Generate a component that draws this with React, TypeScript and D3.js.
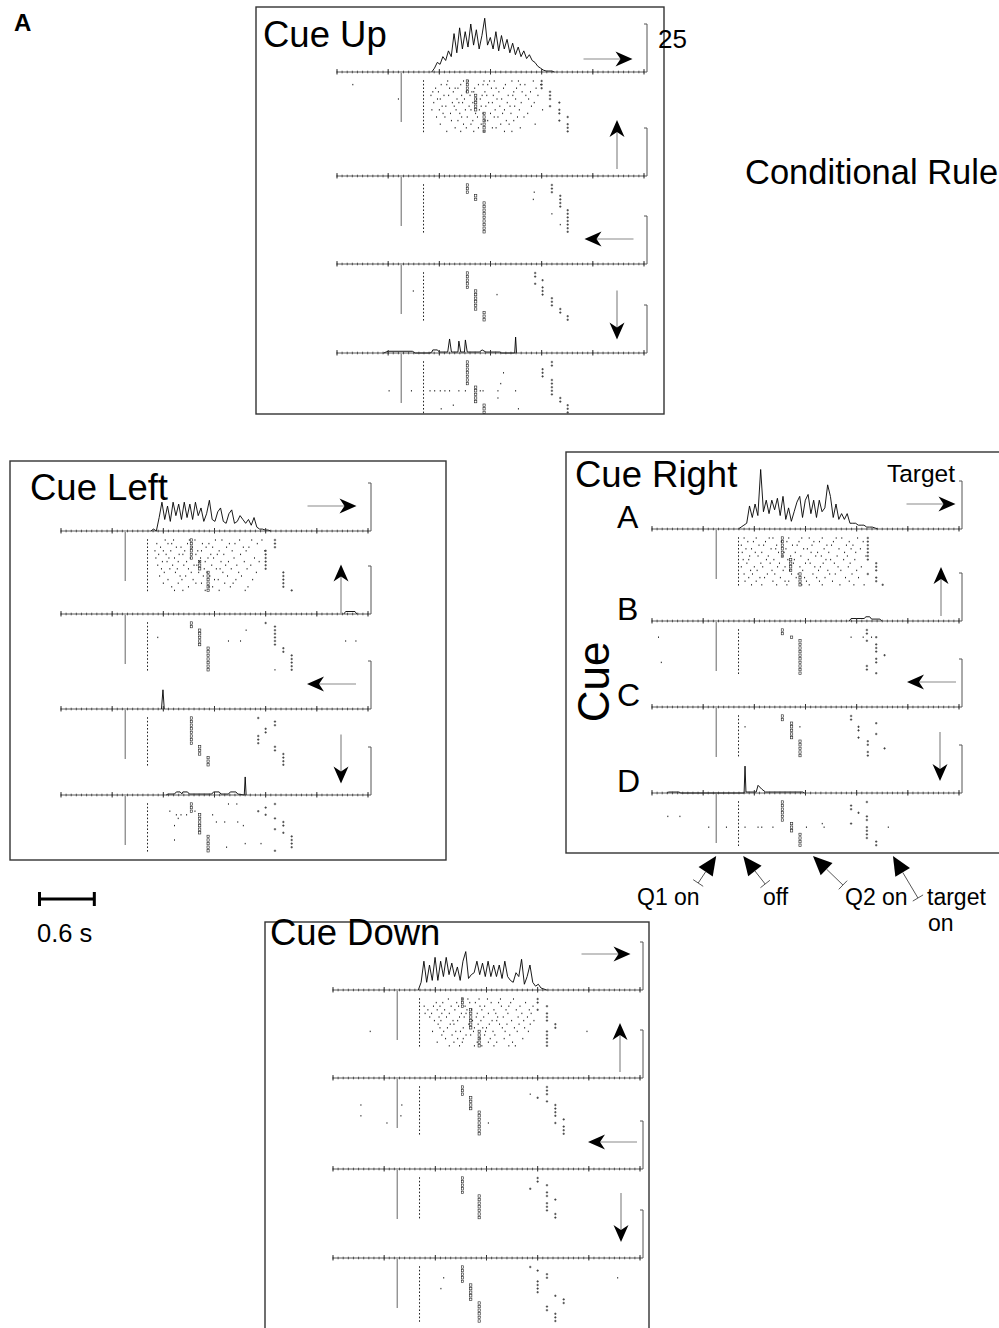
import React from "react";
import * as d3 from "d3";

const FONT = "'Liberation Sans', Arial, Helvetica, sans-serif";

// ---------- shared axis / event constants (seconds from left end of a time line) ----------
const AXIS_SPAN_S = 3.3;
const MAJOR_TICKS_S = [0, 0.55, 1.1, 1.65, 2.2, 2.75, 3.3];
const MINOR_STEP_S = 0.055;
const Q1_ON_S = 0.69;
const CUE_OFF_S = 0.93;
const RATE_BAR = 25; // spikes/s
const SCALE_BAR_S = 0.6;
const BIN_S = 0.03;

const PANEL_TITLES = ["Cue Up", "Cue Left", "Cue Right", "Cue Down"];
const TARGET_DIRS = ["right", "up", "left", "down"];
const ROW_LABELS = ["A", "B", "C", "D"];
const EVENT_LABELS = ["Q1 on", "off", "Q2 on", "target on"];
const EVENT_TIMES = [0.69, 0.98, 1.73, 2.59];

type Hist = { start?: number; values?: number[]; points?: [number, number][] };

// ---------- Cue Up ----------
const cueUpHist: Hist[] = [
  { start: 1.018, values: [0, 2, 5, 4, 8, 6, 11, 8, 20, 10, 23, 12, 21, 13, 25, 14, 22, 12, 19, 28, 14, 18, 12, 21, 11, 19, 12, 17, 10, 15, 9, 13, 8, 11, 7, 9, 6, 5, 3, 2, 1, 0.5, 0.5, 0.5, 0] },
  { points: [] },
  { points: [] },
  { points: [[0.5, 0], [0.55, 0.9], [0.81, 0.9], [0.84, 0], [1.0, 0], [1.02, 0.5], [1.03, 1.6], [1.08, 1.6], [1.1, 0.5], [1.19, 0.5], [1.21, 7.3], [1.23, 0.5], [1.3, 0.5], [1.31, 6.2], [1.33, 0.5], [1.37, 0.5], [1.38, 6.8], [1.4, 0.5], [1.53, 0.5], [1.56, 1.6], [1.6, 0.5], [1.75, 0.5], [1.77, 0], [1.91, 0], [1.92, 8.3], [1.93, 0]] },
];
const cueUpQ2 = [
  [1.4, 1.4, 1.4, 1.4, 1.49, 1.49, 1.49, 1.49, 1.49, 1.58, 1.58, 1.58, 1.58, 1.58, 1.58],
  [1.4, 1.4, 1.4, 1.49, 1.49, 1.58, 1.58, 1.58, 1.58, 1.58, 1.58, 1.58, 1.58, 1.58],
  [1.4, 1.4, 1.4, 1.4, 1.4, 1.49, 1.49, 1.49, 1.49, 1.49, 1.49, 1.58, 1.58, 1.58],
  [1.4, 1.4, 1.4, 1.4, 1.4, 1.4, 1.4, 1.49, 1.49, 1.49, 1.49, 1.49, 1.58, 1.58, 1.58],
];
const cueUpTgt = [
  [2.2, 2.2, 2.2, 2.29, 2.29, 2.29, 2.39, 2.29, 2.39, 2.39, 2.48, 2.39, 2.48, 2.48, 2.48],
  [2.31, 2.31, 2.31, 2.4, 2.4, 2.4, 2.4, 2.48, 2.48, 2.48, 2.48, 2.48, 2.48, 2.48],
  [2.13, 2.13, 2.21, 2.13, 2.21, 2.21, 2.21, 2.31, 2.31, 2.31, 2.4, 2.4, 2.48, 2.48],
  [2.31, 2.31, 2.21, 2.21, 2.21, 2.31, 2.31, 2.31, 2.31, 2.31, 2.4, 2.4, 2.48, 2.48, 2.48],
];
const cueUpDense = [
  "1.19 1.36 1.41 1.58 1.64 1.69 1.88 1.95 2.11",
  "1.12 1.18 1.33 1.52 1.57 1.62 1.81 1.97 2.02 2.19",
  "1.06 1.21 1.27 1.30 1.48 1.66 1.71 1.79 1.93 2.14",
  "1.03 1.09 1.25 1.39 1.45 1.47 1.59 1.74 1.90 1.99 2.08",
  "1.01 1.15 1.20 1.34 1.43 1.56 1.61 1.68 1.84 1.89 2.03 2.16",
  "1.08 1.11 1.29 1.37 1.50 1.54 1.72 1.77 1.92 2.06",
  "1.04 1.24 1.31 1.35 1.46 1.63 1.67 1.83 1.98 2.12",
  "1.13 1.17 1.26 1.42 1.55 1.60 1.75 1.86 1.91 2.09",
  "1.02 1.10 1.28 1.38 1.44 1.53 1.70 1.80 1.96 2.21",
  "1.14 1.22 1.32 1.49 1.57 1.65 1.78 1.87 2.05",
  "1.07 1.16 1.34 1.40 1.51 1.69 1.73 1.94 2.01",
  "1.23 1.30 1.46 1.59 1.62 1.82 1.90",
  "1.11 1.36 1.44 1.55 1.76 1.85 2.13",
  "1.27 1.39 1.52 1.67 1.71 1.97",
  "1.18 1.33 1.47 1.58 1.80 1.88",
];
const cueUpExtra: [number, number, number][] = [
  [0, 1, 0.17], [0, 5, 0.66],
  [1, 2, 2.12], [1, 4, 2.11], [1, 8, 2.31], [1, 11, 2.4],
  [2, 5, 0.82], [2, 6, 1.72],
  [3, 8, 0.56], [3, 8, 0.8], [3, 8, 1.0], [3, 8, 1.05], [3, 8, 1.11], [3, 8, 1.16], [3, 8, 1.21], [3, 8, 1.31], [3, 8, 1.38], [3, 8, 1.54], [3, 8, 1.57], [3, 8, 1.73], [3, 8, 1.92], [3, 3, 1.79], [3, 6, 1.76], [3, 10, 1.73], [3, 12, 1.25], [3, 13, 1.12], [3, 13, 1.95],
];

// ---------- Cue Left ----------
const cueLeftHist: Hist[] = [
  { start: 0.965, values: [0, 1, 0, 7, 15, 6, 13, 5, 15, 8, 14, 6, 15, 7, 14, 6, 15, 8, 12, 5, 9, 16, 6, 5, 10, 12, 5, 4, 9, 11, 4, 5, 8, 6, 4, 6, 3, 7, 2, 1, 1, 0.5, 0.5, 0] },
  { points: [[3.04, 0], [3.06, 1.3], [3.16, 1.3], [3.18, 0]] },
  { points: [[1.08, 0], [1.096, 10], [1.11, 0]] },
  { points: [[1.13, 0], [1.15, 0.5], [1.22, 0.5], [1.24, 1.6], [1.28, 1.6], [1.3, 0.6], [1.31, 1.6], [1.36, 1.6], [1.38, 0.5], [1.62, 0.5], [1.64, 1.6], [1.7, 1.6], [1.72, 0.5], [1.8, 0.5], [1.82, 1.6], [1.88, 1.6], [1.9, 0.5], [1.97, 0], [1.98, 9.4], [1.99, 0]] },
];
const cueLeftQ2 = [
  [1.4, 1.4, 1.4, 1.4, 1.4, 1.4, 1.49, 1.49, 1.49, 1.58, 1.58, 1.58, 1.58, 1.58, 1.58],
  [1.4, 1.4, 1.49, 1.49, 1.49, 1.49, 1.49, 1.58, 1.58, 1.58, 1.58, 1.58, 1.58, 1.58],
  [1.4, 1.4, 1.4, 1.4, 1.4, 1.4, 1.4, 1.4, 1.49, 1.49, 1.49, 1.58, 1.58, 1.58],
  [1.4, 1.4, 1.4, 1.49, 1.49, 1.49, 1.49, 1.49, 1.49, 1.58, 1.58, 1.58, 1.58, 1.58],
];
const cueLeftTgt = [
  [2.3, 2.3, 2.3, 2.2, 2.2, 2.2, 2.2, 2.2, 2.2, 2.39, 2.39, 2.39, 2.39, 2.39, 2.48],
  [2.2, 2.3, 2.3, 2.3, 2.3, 2.3, 2.3, 2.39, 2.39, 2.48, 2.48, 2.48, 2.48, 2.48],
  [2.12, 2.3, 2.3, 2.2, 2.2, 2.12, 2.12, 2.12, 2.3, 2.3, 2.39, 2.39, 2.39, 2.39],
  [2.3, 2.2, 2.12, 2.2, 2.3, 2.39, 2.39, 2.3, 2.39, 2.48, 2.48, 2.48, 2.48, 2.3],
];
const cueLeftDense = [
  "1.12 1.21 1.38 1.44 1.66 1.73 1.92 2.05 2.16",
  "1.03 1.15 1.19 1.36 1.52 1.59 1.81 1.87 2.11",
  "1.07 1.24 1.29 1.41 1.56 1.63 1.78 1.96 2.02",
  "1.01 1.10 1.18 1.33 1.47 1.51 1.70 1.84 1.99 2.19",
  "1.05 1.13 1.27 1.31 1.45 1.61 1.68 1.75 1.93",
  "1.02 1.16 1.22 1.39 1.50 1.58 1.64 1.86 2.08",
  "1.09 1.14 1.26 1.35 1.49 1.55 1.72 1.80 1.97 2.13",
  "1.04 1.20 1.32 1.43 1.46 1.62 1.77 1.89 2.04",
  "1.08 1.17 1.25 1.37 1.54 1.67 1.71 1.83 2.00",
  "1.11 1.23 1.40 1.48 1.57 1.74 1.91 2.10",
  "1.06 1.28 1.34 1.53 1.60 1.79 1.94",
  "1.15 1.30 1.42 1.65 1.69 1.88 2.06",
  "1.10 1.26 1.45 1.51 1.76 1.85",
  "1.19 1.37 1.59 1.63 1.82 2.01",
  "1.22 1.31 1.55 1.70 1.98",
];
const cueLeftExtra: [number, number, number][] = [
  [1, 4, 1.04], [1, 5, 1.8], [1, 5, 1.93], [1, 2, 1.99], [1, 5, 3.06], [1, 5, 3.17], [1, 13, 2.3],
  [3, 2, 1.17], [3, 3, 1.24], [3, 3, 1.29], [3, 3, 1.35], [3, 4, 1.26], [3, 6, 1.22], [3, 10, 1.22], [3, 2, 1.44], [3, 3, 1.63], [3, 5, 1.67], [3, 5, 1.76], [3, 5, 1.9], [3, 6, 1.96], [3, 0, 1.8], [3, 0, 1.89], [3, 11, 1.98], [3, 11, 2.15], [3, 12, 1.78],
];

// ---------- Cue Right ----------
const cueRightHist: Hist[] = [
  { start: 0.928, values: [0, 1, 2, 3, 12, 6, 13, 7, 31, 9, 15, 8, 15, 10, 16, 7, 17, 5, 11, 4, 9, 14, 17, 6, 15, 18, 8, 15, 6, 15, 9, 11, 23, 17, 6, 13, 5, 8, 5, 8, 3, 3, 3, 2, 2, 2, 1, 1, 1, 0.5, 0] },
  { points: [[2.12, 0], [2.14, 1.3], [2.28, 1.3], [2.3, 2.2], [2.34, 2.2], [2.36, 1], [2.45, 1], [2.47, 0]] },
  { points: [] },
  { points: [[0.16, 0], [0.18, 0.5], [0.29, 0.5], [0.31, 0], [0.99, 0], [1.0, 14], [1.01, 0.5], [1.12, 0.5], [1.14, 4], [1.18, 2], [1.22, 0.5], [1.62, 0.5], [1.64, 0]] },
];
const cueRightQ2 = [
  [1.4, 1.4, 1.4, 1.4, 1.4, 1.4, 1.49, 1.49, 1.49, 1.49, 1.59, 1.59, 1.59, 1.59],
  [1.4, 1.4, 1.5, 1.59, 1.59, 1.59, 1.59, 1.59, 1.59, 1.59, 1.59, 1.59, 1.59],
  [1.4, 1.4, 1.5, 1.5, 1.5, 1.5, 1.5, 1.59, 1.59, 1.59, 1.59, 1.59],
  [1.4, 1.4, 1.4, 1.4, 1.4, 1.4, 1.5, 1.5, 1.5, 1.59, 1.59, 1.59, 1.59],
];
const cueRightTgt = [
  [2.32, 2.32, 2.32, 2.32, 2.32, 2.32, 2.32, 2.41, 2.41, 2.41, 2.32, 2.41, 2.41, 2.48],
  [2.31, 2.31, 2.41, 2.31, 2.41, 2.41, 2.41, 2.5, 2.41, 2.41, 2.31, 2.31, 2.41],
  [2.14, 2.14, 2.41, 2.22, 2.22, 2.41, 2.22, 2.32, 2.32, 2.5, 2.32, 2.32],
  [2.31, 2.14, 2.14, 2.22, 2.31, 2.31, 2.14, 2.31, 2.31, 2.31, 2.31, 2.41, 2.41],
];
const cueRightDense = [
  "0.99 1.12 1.26 1.30 1.47 1.61 1.69 1.83 1.98 2.04 2.21",
  "1.03 1.09 1.22 1.39 1.45 1.58 1.74 1.80 1.95 2.12 2.27",
  "0.96 1.15 1.20 1.34 1.51 1.56 1.72 1.88 1.93 2.09 2.16",
  "1.01 1.07 1.28 1.33 1.44 1.63 1.67 1.85 2.01 2.14 2.24",
  "0.97 1.11 1.18 1.36 1.42 1.54 1.71 1.78 1.90 2.07 2.19",
  "1.05 1.14 1.25 1.40 1.49 1.60 1.76 1.82 1.99 2.10 2.30",
  "0.98 1.04 1.23 1.31 1.46 1.53 1.68 1.87 1.92 2.06 2.18",
  "1.02 1.17 1.27 1.37 1.52 1.65 1.70 1.84 1.96 2.13",
  "0.96 1.10 1.19 1.35 1.43 1.59 1.75 1.81 2.00 2.11 2.25",
  "1.06 1.13 1.29 1.41 1.48 1.62 1.79 1.89 2.03 2.20",
  "0.99 1.08 1.24 1.32 1.50 1.57 1.73 1.91 1.97 2.15",
  "1.04 1.16 1.21 1.38 1.55 1.64 1.77 1.86 2.08 2.22",
  "1.00 1.12 1.30 1.43 1.47 1.66 1.80 1.94 2.12",
  "1.07 1.18 1.34 1.45 1.61 1.69 1.83 2.02 2.17 2.28",
];
const cueRightExtra: [number, number, number][] = [
  [1, 2, 0.07], [1, 9, 0.1], [1, 2, 2.14], [1, 2, 2.27], [1, 2, 2.36],
  [2, 3, 1.0], [2, 3, 1.59],
  [3, 4, 0.17], [3, 4, 0.3], [3, 7, 0.61], [3, 7, 0.8], [3, 7, 1.0], [3, 7, 1.14], [3, 7, 1.18], [3, 7, 1.3], [3, 7, 1.66], [3, 6, 1.83], [3, 7, 1.85], [3, 7, 2.54],
];

// ---------- Cue Down ----------
const cueDownHist: Hist[] = [
  { start: 0.917, values: [0, 4, 15, 4, 13, 5, 17, 5, 15, 7, 17, 8, 14, 7, 12, 5, 15, 20, 6, 8, 9, 15, 8, 14, 7, 15, 7, 13, 7, 13, 6, 15, 7, 5, 4, 9, 7, 16, 3, 7, 13, 4, 2, 3, 1, 0.5, 0] },
  { points: [] },
  { points: [] },
  { points: [] },
];
const cueDownQ2 = [
  [1.39, 1.39, 1.39, 1.48, 1.48, 1.48, 1.48, 1.48, 1.48, 1.57, 1.57, 1.57, 1.57, 1.57],
  [1.39, 1.39, 1.39, 1.48, 1.48, 1.48, 1.48, 1.57, 1.57, 1.57, 1.57, 1.57, 1.57, 1.57],
  [1.39, 1.39, 1.39, 1.39, 1.39, 1.57, 1.57, 1.57, 1.57, 1.57, 1.57, 1.57],
  [1.39, 1.39, 1.39, 1.39, 1.39, 1.48, 1.48, 1.48, 1.48, 1.48, 1.57, 1.57, 1.57, 1.57, 1.57, 1.57],
];
const cueDownTgt = [
  [2.2, 2.2, 2.3, 2.2, 2.3, 2.3, 2.3, 2.39, 2.39, 2.3, 2.3, 2.3, 2.3, 2.3],
  [2.3, 2.3, 2.3, 2.2, 2.3, 2.39, 2.39, 2.39, 2.39, 2.48, 2.39, 2.48, 2.48, 2.48],
  [2.2, 2.2, 2.3, 2.12, 2.3, 2.3, 2.39, 2.3, 2.3, 2.3, 2.39, 2.39],
  [2.12, 2.2, 2.3, 2.3, 2.2, 2.2, 2.2, 2.2, 2.39, 2.48, 2.48, 2.3, 2.3, 2.39, 2.39, 2.39],
];
const cueDownDense = [
  "1.24 1.39 1.45 1.57 1.66 1.80 1.94",
  "1.11 1.18 1.33 1.47 1.53 1.70 1.78 1.91 2.07",
  "0.98 1.08 1.15 1.27 1.35 1.42 1.58 1.63 1.81 1.89 2.01 2.15",
  "1.02 1.12 1.20 1.31 1.44 1.49 1.60 1.73 1.86 1.97 2.11",
  "0.99 1.06 1.17 1.25 1.38 1.43 1.55 1.67 1.75 1.88 2.03 2.13",
  "1.04 1.14 1.22 1.36 1.41 1.54 1.62 1.77 1.83 1.99 2.09",
  "1.09 1.16 1.29 1.34 1.50 1.59 1.71 1.76 1.92 2.05 2.16",
  "1.13 1.26 1.30 1.46 1.56 1.68 1.79 1.87 2.00 2.12",
  "1.15 1.23 1.40 1.52 1.61 1.65 1.82 1.95 2.06",
  "1.07 1.19 1.32 1.37 1.51 1.64 1.72 1.85 1.98 2.10",
  "1.17 1.28 1.43 1.48 1.63 1.74 1.90",
  "1.21 1.34 1.40 1.58 1.69 1.84 2.04",
  "1.12 1.30 1.39 1.55 1.67 1.76 1.93",
  "1.25 1.36 1.52 1.60 1.73 1.89 1.96",
];
const cueDownExtra: [number, number, number][] = [
  [0, 9, 0.4], [0, 9, 2.73],
  [1, 5, 0.3], [1, 5, 0.74], [1, 2, 2.12], [1, 8, 0.3], [1, 10, 0.58], [1, 8, 0.73], [1, 10, 1.67],
  [3, 3, 1.19], [3, 6, 1.16], [3, 3, 3.06],
];

// ---------- layout (pixel geometry, not data) ----------
const LAYOUT = [
  { box: [256, 7, 408, 407], title: [263, 47], x0: 337, rows: [72, 176, 264, 353], arrows: [[271, -13], [280, -31.5], [272, -25], [280, -38]] },
  { box: [10, 461, 436, 399], title: [30, 500], x0: 61, rows: [531, 614, 709, 795], arrows: [[271, -25], [280, -25], [270.5, -25], [280, -36]] },
  { box: [566, 452, 460, 401], title: [575, 487], x0: 652, rows: [529, 621, 707, 793], arrows: [[279, -25], [289, -29.5], [279.5, -25], [288, -36.5]] },
  { box: [265, 922, 384, 440], title: [270, 945], x0: 333, rows: [990, 1078, 1169, 1258], arrows: [[273, -36], [287, -30.5], [279.5, -27], [288, -40.5]] },
];
const PANEL_DATA = [
  { hist: cueUpHist, q2: cueUpQ2, tgt: cueUpTgt, dense: cueUpDense, extra: cueUpExtra },
  { hist: cueLeftHist, q2: cueLeftQ2, tgt: cueLeftTgt, dense: cueLeftDense, extra: cueLeftExtra },
  { hist: cueRightHist, q2: cueRightQ2, tgt: cueRightTgt, dense: cueRightDense, extra: cueRightExtra },
  { hist: cueDownHist, q2: cueDownQ2, tgt: cueDownTgt, dense: cueDownDense, extra: cueDownExtra },
];
const EVENT_TAIL = [[-18, 27], [22, 28], [30, 29], [25, 42]];
const EVENT_TEXT_POS = [[637, 905], [763, 905], [845, 905], [927, 905]];

const TRIAL_TOP = 9;
const TRIAL_STEP = 3.6;
const Q1_LINE_LEN = 50;
const ARROW_LEN = 49;

const yRate = d3.scaleLinear().domain([0, RATE_BAR]).range([0, 48]);

function histPoints(h: Hist): [number, number][] {
  if (h.points) return h.points;
  if (h.values && h.start !== undefined) return h.values.map((v, i) => [h.start! + i * BIN_S, v] as [number, number]);
  return [];
}

function DirArrow({ cx, cy, dir }: { cx: number; cy: number; dir: string }) {
  const u = dir === "right" ? [1, 0] : dir === "left" ? [-1, 0] : dir === "up" ? [0, -1] : [0, 1];
  const n = [-u[1], u[0]];
  const sx = cx - (u[0] * ARROW_LEN) / 2, sy = cy - (u[1] * ARROW_LEN) / 2;
  const tx = cx + (u[0] * ARROW_LEN) / 2, ty = cy + (u[1] * ARROW_LEN) / 2;
  const hl = 17, hw = 7.5, notch = 12;
  const p = [
    [tx, ty],
    [tx - u[0] * hl + n[0] * hw, ty - u[1] * hl + n[1] * hw],
    [tx - u[0] * notch, ty - u[1] * notch],
    [tx - u[0] * hl - n[0] * hw, ty - u[1] * hl - n[1] * hw],
  ];
  return (
    <g>
      <line x1={sx} y1={sy} x2={tx - u[0] * 8} y2={ty - u[1] * 8} stroke="#8a8a8a" strokeWidth={1.2} />
      <polygon points={p.map((q) => q.join(",")).join(" ")} fill="#000" />
    </g>
  );
}

function TimeAxis({ x, y }: { x: d3.ScaleLinear<number, number>; y: number }) {
  const minor = d3.range(0, AXIS_SPAN_S + 1e-6, MINOR_STEP_S);
  return (
    <g stroke="#333" strokeWidth={0.8}>
      <line x1={x(0)} x2={x(AXIS_SPAN_S)} y1={y} y2={y} />
      {minor.map((t, i) => (
        <line key={i} x1={x(t)} x2={x(t)} y1={y - 1.3} y2={y + 1.3} />
      ))}
      {MAJOR_TICKS_S.map((t, i) => (
        <line key={"M" + i} x1={x(t)} x2={x(t)} y1={y - 3} y2={y + 2.5} strokeWidth={1} />
      ))}
    </g>
  );
}

function Panel({ idx }: { idx: number }) {
  const L = LAYOUT[idx];
  const D = PANEL_DATA[idx];
  const x = d3.scaleLinear().domain([0, AXIS_SPAN_S]).range([L.x0, L.x0 + 307]);
  const line = d3
    .line<[number, number]>()
    .x((d) => x(d[0]))
    .y((d) => -yRate(d[1]));
  const denseSpikes = D.dense.map((s) => s.split(" ").map(Number));
  const [bx, by, bw, bh] = L.box;
  return (
    <g>
      <rect x={bx} y={by} width={bw} height={bh} fill="none" stroke="#333" strokeWidth={1.4} />
      <text x={L.title[0]} y={L.title[1]} fontSize={36.5} fontFamily={FONT} fill="#000">
        {PANEL_TITLES[idx]}
      </text>
      {L.rows.map((ay, r) => {
        const pts = histPoints(D.hist[r]);
        const trialsQ2 = D.q2[r];
        const trialsTgt = D.tgt[r];
        const ty = (i: number) => ay + TRIAL_TOP + i * TRIAL_STEP;
        const xb = x(AXIS_SPAN_S) + 3;
        const [acx, acy] = L.arrows[r];
        return (
          <g key={r}>
            {pts.length > 0 && (
              <path d={line(pts) || ""} transform={`translate(0,${ay})`} fill="none" stroke="#000" strokeWidth={0.9} />
            )}
            <TimeAxis x={x} y={ay} />
            <path
              d={`M${xb - 3},${ay - yRate(RATE_BAR)}H${xb}V${ay}H${xb - 3}`}
              fill="none"
              stroke="#555"
              strokeWidth={1}
            />
            <DirArrow cx={L.x0 + acx} cy={ay + acy} dir={TARGET_DIRS[r]} />
            <line x1={x(Q1_ON_S)} x2={x(Q1_ON_S)} y1={ay + 1} y2={ay + Q1_LINE_LEN} stroke="#666" strokeWidth={1} />
            {trialsQ2.map((q, i) => (
              <g key={i}>
                <rect x={x(CUE_OFF_S) - 0.5} y={ty(i) - 0.8} width={1} height={1.6} fill="#222" />
                <rect x={x(q) - 1} y={ty(i) - 1.2} width={2.2} height={2.4} fill="none" stroke="#222" strokeWidth={0.6} />
                <path
                  d={`M${x(trialsTgt[i]) - 1.2},${ty(i)}h2.4M${x(trialsTgt[i])},${ty(i) - 1.2}v2.4`}
                  stroke="#222"
                  strokeWidth={0.7}
                />
              </g>
            ))}
            {r === 0 &&
              denseSpikes.map((tr, i) =>
                tr.map((t, k) => <rect key={i + "-" + k} x={x(t) - 0.5} y={ty(i) - 0.7} width={1} height={1.4} fill="#222" />)
              )}
            {D.extra
              .filter((e) => e[0] === r)
              .map((e, k) => (
                <rect key={"e" + k} x={x(e[2]) - 0.5} y={ty(e[1]) - 0.7} width={1} height={1.4} fill="#222" />
              ))}
            {idx === 2 && (
              <text x={617} y={ay - 1} fontSize={32} fontFamily={FONT}>
                {ROW_LABELS[r]}
              </text>
            )}
          </g>
        );
      })}
    </g>
  );
}

export default function App() {
  const xRight = d3.scaleLinear().domain([0, AXIS_SPAN_S]).range([LAYOUT[2].x0, LAYOUT[2].x0 + 307]);
  const xUp = d3.scaleLinear().domain([0, AXIS_SPAN_S]).range([LAYOUT[0].x0, LAYOUT[0].x0 + 307]);
  const barX0 = 39;
  const barX1 = barX0 + (xUp(SCALE_BAR_S) - xUp(0));
  return (
    <svg
      width={999}
      height={1328}
      style={{ position: "absolute", left: 0, top: 0, background: "#fff" }}
      fontFamily={FONT}
    >
      <rect x={0} y={0} width={999} height={1328} fill="#fff" />
      <text x={14} y={31} fontSize={24} fontWeight="bold">
        A
      </text>
      {[0, 1, 2, 3].map((i) => (
        <Panel key={i} idx={i} />
      ))}
      <text x={xUp(AXIS_SPAN_S) + 14} y={48} fontSize={26}>
        {RATE_BAR}
      </text>
      <text x={745} y={184} fontSize={34.5}>
        Conditional Rule
      </text>
      <text x={955} y={482} fontSize={24.5} textAnchor="end">
        Target
      </text>
      <text x={609} y={682} fontSize={44} textAnchor="middle" transform="rotate(-90,609,682)">
        Cue
      </text>
      <g fill="#000">
        <rect x={barX0} y={897.5} width={barX1 - barX0} height={3} />
        <rect x={barX0 - 1} y={892} width={3} height={14} />
        <rect x={barX1 - 2} y={892} width={3} height={14} />
      </g>
      <text x={37} y={942} fontSize={25.5}>
        {`${SCALE_BAR_S} s`}
      </text>
      {EVENT_TIMES.map((t, i) => {
        const tipX = xRight(t);
        const tipY = 856;
        const [dx, dy] = EVENT_TAIL[i];
        const len = Math.hypot(dx, dy);
        const u = [dx / len, dy / len];
        const n = [-u[1], u[0]];
        const hl = 19, hw = 8.5;
        const bx = tipX + u[0] * hl, by = tipY + u[1] * hl;
        const ex = tipX + dx, ey = tipY + dy;
        const head = [
          [tipX, tipY],
          [bx + n[0] * hw, by + n[1] * hw],
          [bx - n[0] * hw, by - n[1] * hw],
        ];
        const [lx, ly] = EVENT_TEXT_POS[i];
        const words = EVENT_LABELS[i] === "target on" ? ["target", "on"] : [EVENT_LABELS[i]];
        return (
          <g key={i}>
            <polygon points={head.map((q) => q.join(",")).join(" ")} fill="#000" />
            <line x1={bx} y1={by} x2={ex} y2={ey} stroke="#444" strokeWidth={0.9} />
            <line x1={ex + n[0] * 6} y1={ey + n[1] * 6} x2={ex - n[0] * 6} y2={ey - n[1] * 6} stroke="#444" strokeWidth={0.9} />
            <text x={lx} y={ly} fontSize={23}>
              {words[0]}
            </text>
            {words[1] && (
              <text x={lx + 1} y={ly + 26} fontSize={23}>
                {words[1]}
              </text>
            )}
          </g>
        );
      })}
    </svg>
  );
}
